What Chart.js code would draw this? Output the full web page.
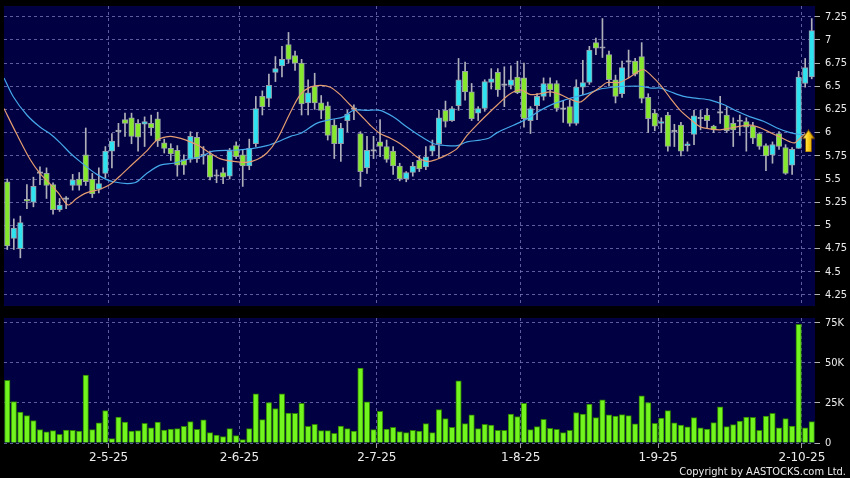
<!DOCTYPE html>
<html>
<head>
<meta charset="utf-8">
<script src="https://cdn.jsdelivr.net/npm/chart.js@4.4.1/dist/chart.umd.min.js"></script>
<style>
  html, body { margin: 0; padding: 0; background: #000; }
  #wrap { position: relative; width: 850px; height: 478px; overflow: hidden; background: #000; }
  #priceBox { position: absolute; left: 0; top: 0; width: 850px; height: 310px; }
  #volBox { position: absolute; left: 0; top: 310px; width: 850px; height: 168px; }
  #copy { position: absolute; right: 4px; top: 465px; color: #ececec; line-height: 14px;
          font: 11px 'DejaVu Sans Condensed', 'DejaVu Sans', sans-serif; white-space: nowrap; }
</style>
</head>
<body>
<div id="wrap">
  <div id="priceBox"><canvas id="price" width="850" height="310"></canvas></div>
  <div id="volBox"><canvas id="vol" width="850" height="168"></canvas></div>
  <div id="copy">Copyright by AASTOCKS.com Ltd.</div>
</div>
<script>
// daily candles, index 0 = first visible session
const open = [5.47,4.86,4.75,5.28,5.25,5.56,5.56,5.44,5.17,5.28,
  5.43,5.50,5.76,5.50,5.39,5.56,5.80,6.01,6.14,6.16,
  6.10,6.09,6.10,6.15,5.89,5.83,5.81,5.71,5.71,5.95,
  5.75,5.76,5.53,5.57,5.53,5.86,5.76,5.64,5.88,6.39,
  6.37,6.65,6.72,6.95,6.83,6.75,6.32,6.50,6.32,6.29,
  6.08,5.88,6.13,6.25,5.99,5.62,5.80,5.90,5.85,5.80,
  5.64,5.50,5.57,5.70,5.63,5.80,5.88,6.24,6.13,6.29,
  6.66,6.44,6.21,6.26,6.54,6.65,6.51,6.51,6.60,6.59,
  6.13,6.29,6.39,6.53,6.53,6.25,6.28,6.10,6.49,6.54,
  6.97,6.91,6.84,6.57,6.42,6.76,6.77,6.82,6.38,6.21,
  6.10,6.19,6.01,6.08,5.86,5.98,6.15,6.19,6.07,6.21,
  6.19,6.10,6.12,6.12,6.07,5.99,5.86,5.76,5.99,5.84,
  5.65,5.83,6.53,6.60];
const high = [5.50,5.07,5.10,5.44,5.52,5.63,5.62,5.46,5.29,5.31,
  5.55,5.57,6.05,5.56,5.62,5.85,5.99,6.10,6.21,6.21,
  6.14,6.17,6.19,6.22,5.93,5.88,5.86,5.76,6.01,6.00,
  5.85,5.80,5.60,5.62,5.83,5.90,5.82,5.93,6.39,6.45,
  6.63,6.82,6.93,7.08,6.88,6.79,6.57,6.64,6.40,6.33,
  6.14,6.10,6.24,6.30,6.01,5.96,5.96,6.14,5.92,5.85,
  5.67,5.58,5.68,5.75,5.85,5.92,6.24,6.34,6.28,6.80,
  6.76,6.53,6.28,6.57,6.69,6.69,6.71,6.72,6.77,6.75,
  6.28,6.42,6.59,6.59,6.56,6.34,6.35,6.57,6.78,6.93,
  7.02,7.23,6.88,6.62,6.77,6.89,6.80,6.97,6.42,6.25,
  6.16,6.22,6.09,6.11,5.90,6.24,6.24,6.26,6.08,6.39,
  6.28,6.16,6.19,6.16,6.11,6.00,5.88,5.90,6.01,5.87,
  5.84,6.66,6.80,7.23];
const low = [4.74,4.74,4.65,5.18,5.20,5.44,5.29,5.12,5.15,5.18,
  5.38,5.38,5.43,5.30,5.35,5.51,5.62,5.85,5.96,5.88,
  5.80,5.85,5.97,5.85,5.78,5.70,5.53,5.55,5.68,5.68,
  5.66,5.49,5.46,5.45,5.50,5.72,5.42,5.60,5.85,6.19,
  6.28,6.55,6.60,6.75,6.67,6.19,6.19,6.25,6.15,5.92,
  5.72,5.69,6.01,6.14,5.42,5.56,5.72,5.74,5.68,5.55,
  5.48,5.47,5.53,5.58,5.60,5.75,5.73,6.06,6.12,6.24,
  6.35,6.13,6.13,6.23,6.47,6.39,6.28,6.47,6.42,6.06,
  5.99,6.14,6.35,6.39,6.23,6.11,6.07,6.08,6.41,6.52,
  6.84,6.81,6.50,6.32,6.38,6.59,6.61,6.32,6.00,6.02,
  6.00,5.80,5.85,5.75,5.80,5.87,6.03,6.05,6.00,6.10,
  6.00,5.85,5.97,5.80,5.88,5.82,5.59,5.67,5.82,5.55,
  5.55,5.83,6.49,6.58];
const close = [4.78,4.97,5.03,5.26,5.42,5.56,5.43,5.17,5.22,5.28,
  5.49,5.43,5.47,5.34,5.45,5.80,5.91,6.01,6.10,5.96,
  5.95,6.12,6.05,5.91,5.83,5.77,5.65,5.65,5.96,5.72,
  5.75,5.52,5.53,5.52,5.80,5.74,5.64,5.83,6.26,6.28,
  6.51,6.69,6.79,6.79,6.75,6.31,6.43,6.32,6.24,5.97,
  5.88,6.05,6.20,6.25,5.58,5.81,5.80,5.85,5.71,5.64,
  5.50,5.57,5.64,5.61,5.74,5.86,6.16,6.12,6.26,6.57,
  6.44,6.15,6.26,6.55,6.58,6.46,6.51,6.57,6.43,6.15,
  6.26,6.39,6.53,6.46,6.26,6.25,6.10,6.49,6.54,6.89,
  6.91,6.91,6.57,6.39,6.70,6.76,6.63,6.37,6.15,6.07,
  6.12,5.85,6.01,5.80,5.88,6.18,6.15,6.13,6.03,6.21,
  6.02,6.03,6.12,6.06,5.94,5.85,5.75,5.87,5.85,5.56,
  5.82,6.60,6.70,7.10];
// volume in thousands of shares
const volume = [39.0,25.8,19.2,17.1,14.0,8.3,6.9,7.7,5.4,8.1,
  7.9,7.5,42.3,8.3,12.5,20.2,2.7,16.2,13.1,7.5,
  7.7,12.3,9.4,13.1,8.1,8.7,9.0,10.4,13.3,8.5,
  14.4,6.5,5.0,4.0,9.0,4.6,2.1,9.0,30.6,14.6,
  25.2,21.5,30.6,18.7,18.5,24.8,10.4,11.7,7.7,7.7,
  6.0,10.6,9.0,7.5,46.7,25.6,8.3,19.8,8.7,9.8,
  7.1,6.5,7.9,7.5,12.1,6.5,20.8,15.2,9.8,38.7,
  12.1,17.5,9.0,11.7,11.2,7.9,7.9,18.1,16.5,24.8,
  8.3,10.2,14.8,9.2,8.5,6.5,7.9,19.0,18.1,24.2,
  15.8,26.9,17.5,16.7,17.7,17.1,11.9,29.4,25.2,12.3,
  15.6,20.2,12.5,11.2,10.0,15.8,9.4,8.7,12.7,22.5,
  10.2,11.5,13.7,16.2,16.0,7.9,16.7,18.5,9.4,15.2,
  10.6,74.0,9.4,13.3];
// moving averages: [session index, price]
const maFast = [[-0.5,6.26],[1.4,5.99],[3.5,5.71],[5,5.56],[6.5,5.45],[7.8,5.35],[9.3,5.22],
  [10.6,5.29],[12.1,5.35],[14.2,5.39],[15.7,5.44],[17.2,5.53],[19.3,5.67],[21.3,5.80],
  [22.9,5.92],[24.9,5.96],[26.4,5.94],[28,5.90],[29.5,5.85],[31,5.78],[32.5,5.72],
  [34.6,5.69],[36.6,5.68],[38.2,5.71],[39.7,5.78],[41.2,5.92],[43.3,6.22],[44.8,6.41],
  [46.3,6.49],[47.9,6.51],[49.4,6.49],[50.9,6.41],[52.4,6.30],[54,6.19],[55.5,6.08],
  [57,5.99],[58.6,5.94],[60.1,5.88],[61.6,5.80],[62.6,5.74],[64.1,5.69],[65.6,5.71],
  [67.2,5.76],[68.8,5.83],[70.3,5.97],[72.3,6.12],[73.9,6.23],[75.4,6.33],[76.9,6.42],
  [78.5,6.46],[80,6.41],[81.5,6.42],[83.1,6.44],[84.6,6.41],[86.1,6.36],[87.6,6.33],
  [89.2,6.42],[90.7,6.49],[91.7,6.54],[93.5,6.54],[95,6.59],[96.5,6.66],[97.3,6.68],
  [98.4,6.62],[99.9,6.51],[101.4,6.37],[102.9,6.24],[104.5,6.14],[106,6.06],[107.5,6.04],
  [109,6.03],[110.6,6.05],[112.1,6.07],[113.6,6.08],[115.2,6.05],[116.7,6.00],[118.2,5.95],
  [119.7,5.90],[120.4,5.89],[121.2,5.94],[122,5.99]];
const maSlow = [[-0.5,6.59],[0.9,6.39],[3,6.19],[5,6.06],[6.5,5.99],[8.1,5.89],[9.6,5.78],
  [11.1,5.69],[13.7,5.55],[16.2,5.47],[19.5,5.46],[21.3,5.56],[23.4,5.65],[25.4,5.67],
  [27.4,5.71],[29.5,5.74],[31.5,5.80],[34.6,5.81],[37.6,5.83],[39.7,5.86],[41.7,5.91],
  [43.3,5.96],[44.8,5.99],[47.3,6.10],[49.4,6.14],[51.4,6.17],[52.9,6.24],[55,6.24],
  [57,6.24],[59,6.17],[61.1,6.06],[63.2,5.96],[65.2,5.88],[67.2,5.86],[68.8,5.86],
  [70.3,5.90],[72.3,5.92],[73.6,5.94],[74.9,6.00],[77.4,6.08],[79.5,6.15],[81.5,6.24],
  [83.5,6.31],[85.6,6.36],[86.6,6.38],[88.7,6.42],[90.7,6.47],[92.7,6.49],[94.8,6.50],
  [96.8,6.50],[98.4,6.48],[99.9,6.48],[101.4,6.44],[103.4,6.39],[105.5,6.37],[107.5,6.35],
  [109.6,6.30],[111.6,6.23],[113.6,6.17],[115.7,6.12],[117.7,6.05],[119.7,6.00],
  [121.2,5.98],[122,5.98]];
const signalAt = [122.5, 5.91];   // yellow up arrow
const monthPos = [15.5, 35.5, 56.5, 78.5, 99.5, 121.5];
const monthLabels = ['2-5-25', '2-6-25', '2-7-25', '1-8-25', '1-9-25', '2-10-25'];
const priceTicks = [4.25, 4.5, 4.75, 5, 5.25, 5.5, 5.75, 6, 6.25, 6.5, 6.75, 7, 7.25];
const volTicks = [0, 25, 50, 75];

const FONT = { family: "'DejaVu Sans Condensed', 'DejaVu Sans', sans-serif", size: 11 };
const DATE_FONT = { family: "'DejaVu Sans', sans-serif", size: 12 };
const GRID = 'rgba(125,125,190,0.75)';
const NAVY = '#000042';
const UP = '#2ee2f0', DOWN = '#86e82c', FLAT = '#b8b8c0';

const navyBg = {
  id: 'navyBg',
  beforeDraw(chart) {
    const { ctx, chartArea: a } = chart;
    ctx.save();
    ctx.fillStyle = NAVY;
    ctx.fillRect(a.left, a.top, a.right - a.left, a.bottom - a.top);
    ctx.restore();
  }
};

function makeArrow() {
  const c = document.createElement('canvas');
  c.width = 13; c.height = 23;
  const g = c.getContext('2d');
  const grad = g.createLinearGradient(0, 0, 13, 0);
  grad.addColorStop(0, '#fff6a8');
  grad.addColorStop(0.45, '#ffd41c');
  grad.addColorStop(1, '#c98600');
  g.beginPath();
  g.moveTo(6.5, 0.5); g.lineTo(12.5, 9); g.lineTo(9.5, 9); g.lineTo(9.5, 22.5);
  g.lineTo(3.5, 22.5); g.lineTo(3.5, 9); g.lineTo(0.5, 9); g.closePath();
  g.fillStyle = grad; g.fill();
  g.strokeStyle = '#7a5000'; g.lineWidth = 1; g.stroke();
  return c;
}

// keep the plot box where the picture has it, whatever the label sizes are
function noPad(s) { s.paddingTop = 0; s.paddingBottom = 0; s.paddingLeft = 0; s.paddingRight = 0; }

const idx = open.map((_, i) => i);
const xAxis = (showLabels) => ({
  type: 'linear', min: -0.5, max: 123.5, offset: false,
  afterBuildTicks: s => { s.ticks = monthPos.map(v => ({ value: v })); },
  ticks: showLabels
    ? { display: true, autoSkip: false, maxRotation: 0, color: '#ececec', font: DATE_FONT, padding: 3,
        callback: (v, i) => monthLabels[i] }
    : { display: false },
  grid: { offset: false, color: GRID, lineWidth: 1, drawTicks: showLabels, tickLength: 5,
          tickColor: '#9a9a9a', tickBorderDash: [] },
  border: { display: false, dash: [3, 3] },
  afterFit: s => { s.height = showLabels ? 35 : 0; noPad(s); }
});
const yAxis = (min, max, ticks, fmt) => ({
  position: 'right', min: min, max: max,
  afterBuildTicks: s => { s.ticks = ticks.map(v => ({ value: v })); },
  ticks: { color: '#ececec', font: FONT, padding: 5, callback: fmt },
  grid: { color: GRID, tickColor: '#b0b0b0', tickLength: 5, tickBorderDash: [] },
  border: { display: false, dash: [3, 3] },
  afterFit: s => { s.width = 35; noPad(s); }
});

new Chart(document.getElementById('price'), {
  type: 'bar',
  data: {
    datasets: [
      { type: 'scatter', data: [{ x: signalAt[0], y: signalAt[1] }], pointStyle: makeArrow(),
        pointRadius: 10, order: -2 },
      { type: 'line', data: maFast.map(p => ({ x: p[0], y: p[1] })), borderColor: '#e59c70',
        borderWidth: 1.2, pointRadius: 0, tension: 0.3, order: -1 },
      { type: 'line', data: maSlow.map(p => ({ x: p[0], y: p[1] })), borderColor: '#45a8ea',
        borderWidth: 1.2, pointRadius: 0, tension: 0.3, order: -1 },
      { data: idx.map(i => ({ x: i, y: [open[i], close[i]] })),
        backgroundColor: c => {
          const i = c.dataIndex;
          return close[i] > open[i] ? UP : (close[i] < open[i] ? DOWN : FLAT);
        },
        borderColor: '#9a9eaa', borderWidth: 1, borderSkipped: false, minBarLength: 1.5,
        barThickness: 5.5, grouped: false, order: 1 },
      { data: idx.map(i => ({ x: i, y: [low[i], high[i]] })), backgroundColor: '#b0b0ba',
        barThickness: 1, grouped: false, order: 2 }
    ]
  },
  options: {
    responsive: false, animation: false, events: [],
    layout: { autoPadding: false, padding: { left: 4, top: 6, bottom: 4, right: 0 } },
    plugins: { legend: { display: false }, tooltip: { enabled: false } },
    scales: {
      x: xAxis(false),
      y: yAxis(4.131, 7.365, priceTicks, v => String(+v.toFixed(2)))
    }
  },
  plugins: [navyBg]
});

new Chart(document.getElementById('vol'), {
  type: 'bar',
  data: {
    datasets: [{
      data: idx.map(i => ({ x: i, y: volume[i] })),
      backgroundColor: '#72f41e', borderColor: '#2d7f00', borderWidth: 1,
      barThickness: 5.5, grouped: false
    }]
  },
  options: {
    responsive: false, animation: false, events: [],
    layout: { autoPadding: false, padding: { left: 4, top: 8, bottom: 0, right: 0 } },
    plugins: { legend: { display: false }, tooltip: { enabled: false } },
    scales: {
      x: xAxis(true),
      y: yAxis(0, 77.9, volTicks, v => v === 0 ? '0' : v + 'K')
    }
  },
  plugins: [navyBg]
});
</script>
</body>
</html>
